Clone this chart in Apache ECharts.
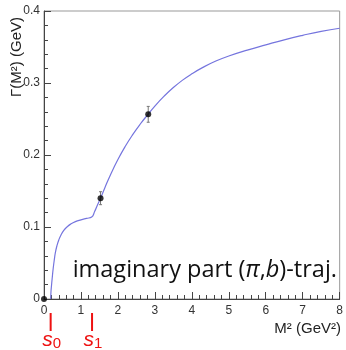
<!DOCTYPE html>
<html><head><meta charset="utf-8">
<script src="https://cdn.jsdelivr.net/npm/echarts@6/dist/echarts.min.js"></script>
<style>html,body{margin:0;padding:0;background:#fff}#c{width:346px;height:350px}</style>
</head><body><div id="c"></div>
<script>
// Model curve (imaginary part, Gamma(M^2))
const curveX = [0.18, 0.19, 0.20, 0.22, 0.25, 0.28, 0.31, 0.35, 0.40, 0.46, 0.53, 0.62, 0.72, 0.85, 1.0, 1.15, 1.29, 1.37, 1.45, 1.53, 1.65, 1.80, 2.0, 2.2, 2.4, 2.6, 2.82, 3.0, 3.25, 3.5, 3.75, 4.0, 4.3, 4.65, 5.0, 5.5, 6.0, 6.5, 7.0, 7.5, 8.0];
const curveY = [0, 0.011, 0.017, 0.028, 0.043, 0.055, 0.065, 0.074, 0.082, 0.089, 0.095, 0.100, 0.104, 0.1075, 0.110, 0.112, 0.1138, 0.1215, 0.131, 0.140, 0.155, 0.1727, 0.1937, 0.2121, 0.2283, 0.2427, 0.2568, 0.2680, 0.2817, 0.2937, 0.3040, 0.3127, 0.3217, 0.3305, 0.3375, 0.3457, 0.3530, 0.3600, 0.3662, 0.3717, 0.3760];
// Data points with errors
const pointX = [0, 1.53, 2.82];
const pointY = [0, 0.140, 0.2565];
const pointErr = [0, 0.009, 0.011];
// Thresholds
const thresholdX = [0.18, 1.30];
const thresholdSub = ['0', '1'];

const chart = echarts.init(document.getElementById('c'), null, {renderer: 'canvas'});
const AX = '#444';
const font = 'Liberation Sans';

const curveData = curveX.map((x, i) => [x, curveY[i]]);
const pts = pointX.map((x, i) => [x, pointY[i], pointErr[i]]);
const thr = thresholdX.map((x, i) => [x, 0, thresholdSub[i]]);

chart.setOption({
  animation: false,
  grid: {left: 44, right: 4, top: 11, bottom: 51, show: true, borderColor: '#999', borderWidth: 1},
  xAxis: {
    type: 'value', min: 0, max: 8, interval: 1,
    axisLine: {show: true, onZero: false, lineStyle: {color: AX, width: 1}},
    axisTick: {show: true, inside: true, length: 7, lineStyle: {color: AX}},
    minorTick: {show: true, splitNumber: 5, length: 4, lineStyle: {color: AX}},
    splitLine: {show: false},
    axisLabel: {color: '#333', fontSize: 12, margin: 6, fontFamily: font}
  },
  yAxis: {
    type: 'value', min: 0, max: 0.4, interval: 0.1,
    axisLine: {show: true, onZero: false, lineStyle: {color: AX, width: 1}},
    axisTick: {show: true, inside: true, length: 7, lineStyle: {color: AX}},
    minorTick: {show: true, splitNumber: 5, length: 4, lineStyle: {color: AX}},
    splitLine: {show: false},
    axisLabel: {color: '#333', fontSize: 12, margin: 4, fontFamily: font}
  },
  graphic: [
    {type: 'text', x: 17, y: 17, rotation: Math.PI / 2,
     style: {text: 'Γ(M²) (GeV)', fill: '#222', font: '15px "Liberation Sans"', align: 'right', verticalAlign: 'middle'}},
    {type: 'text', x: 341, y: 329,
     style: {text: 'M² (GeV²)', fill: '#222', font: '15px "Liberation Sans"', align: 'right', verticalAlign: 'middle'}},
    {type: 'text', x: 337, y: 270,
     style: {text: '{n|imaginary part (}{i|π}{n|,}{i|b}{n|)-traj.}', align: 'right', verticalAlign: 'middle',
       rich: {n: {fontFamily: 'Open Sans', fontSize: 23.5, fill: '#111', color: '#111'},
              i: {fontFamily: 'Open Sans', fontStyle: 'italic', fontSize: 23.5, fill: '#111', color: '#111'}}}}
  ],
  series: [
    {type: 'line', data: curveData, showSymbol: false, smooth: 0.5,
     lineStyle: {color: '#7575de', width: 1.2}, z: 3},
    {type: 'custom', data: pts, clip: false, z: 4,
     renderItem: function (params, api) {
       const x = api.value(0), y = api.value(1), e = api.value(2);
       if (!e) return null;
       const top = api.coord([x, y + e]), bot = api.coord([x, y - e]);
       return {type: 'group', children: [
         {type: 'line', shape: {x1: top[0], y1: top[1], x2: bot[0], y2: bot[1]}, style: {stroke: '#777', lineWidth: 1}},
         {type: 'line', shape: {x1: top[0] - 1.5, y1: top[1], x2: top[0] + 1.5, y2: top[1]}, style: {stroke: '#777', lineWidth: 1}},
         {type: 'line', shape: {x1: bot[0] - 1.5, y1: bot[1], x2: bot[0] + 1.5, y2: bot[1]}, style: {stroke: '#777', lineWidth: 1}}
       ]};
     }},
    {type: 'scatter', data: pts.map(p => [p[0], p[1]]), symbol: 'circle', symbolSize: 6, clip: false,
     itemStyle: {color: '#000'}, z: 5},
    {type: 'custom', data: thr, clip: false, z: 5,
     renderItem: function (params, api) {
       const c = api.coord([api.value(0), api.value(1)]);
       return {type: 'group', children: [
         {type: 'line', shape: {x1: c[0], y1: c[1] + 14, x2: c[0], y2: c[1] + 32}, style: {stroke: '#ee1111', lineWidth: 2}},
         {type: 'text', x: c[0] + 1, y: c[1] + 41,
          style: {text: '{s|s}{b|' + api.value(2) + '}', align: 'center', verticalAlign: 'middle',
            rich: {s: {fontFamily: 'Liberation Sans', fontStyle: 'italic', fontSize: 21, fill: '#ee1111', color: '#ee1111'},
                   b: {fontFamily: 'Liberation Sans', fontSize: 15, fill: '#ee1111', color: '#ee1111', padding: [8, 0, 0, 0]}}}}
       ]};
     }}
  ]
});
</script></body></html>
